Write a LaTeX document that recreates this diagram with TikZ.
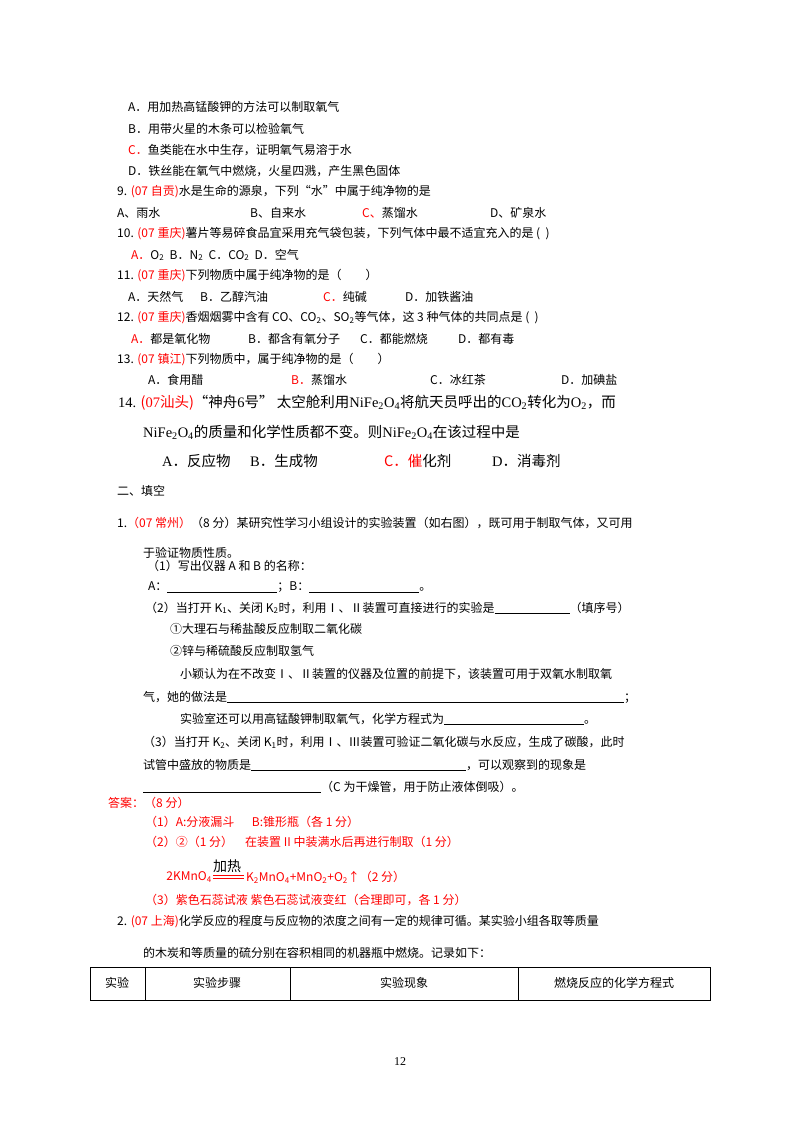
\documentclass[tikz,border=0pt]{standalone}
\usepackage{fontspec}
\setmainfont{Noto Sans CJK SC}
\newfontfamily\serifcn{Liberation Serif}
\begin{document}
\begin{tikzpicture}[x=1pt,y=-1pt,
  t/.style={anchor=west,inner sep=0pt,font=\fontsize{12}{14}\selectfont},
  tb/.style={anchor=west,inner sep=0pt,font=\fontsize{14.5}{17}\selectfont},
  r/.style={t,text=red}]
\path[use as bounding box,fill=white] (0,0) rectangle (800,1132);
\newcommand{\ul}[1]{\underline{\hspace{#1pt}}}
\newcommand{\rd}[1]{\textcolor{red}{#1}}
\node[t] (a8) at (128,107) {A．用加热高锰酸钾的方法可以制取氧气};
\node[t] (b8) at (128,129) {B．用带火星的木条可以检验氧气};
\node[t] (c8) at (128,150) {\rd{C．}鱼类能在水中生存，证明氧气易溶于水};
\node[t] (d8) at (128,171) {D．铁丝能在氧气中燃烧，火星四溅，产生黑色固体};
\node[t] (q9) at (117,192) {9. \rd{(07 自贡)}水是生命的源泉，下列“水”中属于纯净物的是};
\node[t] (a9) at (117,213) {A、雨水};
\node[t] (b9) at (250,213) {B、自来水};
\node[t] (c9) at (362,213) {\rd{C、}蒸馏水};
\node[t] (d9) at (490,213) {D、矿泉水};
\node[t] (q10) at (117,234) {10. \rd{(07 重庆)}薯片等易碎食品宜采用充气袋包装，下列气体中最不适宜充入的是 (\ \ )};
\node[t] (a10) at (131,255) {\rd{A．}O\textsubscript{2}\ \ B．N\textsubscript{2}\ \ C．CO\textsubscript{2}\ \ D．空气};
\node[t] (q11) at (117,276) {11. \rd{(07 重庆)}下列物质中属于纯净物的是（　　）};
\node[t] (a11) at (128,297) {A．天然气};
\node[t] (b11) at (200,297) {B．乙醇汽油};
\node[t] (c11) at (323,297) {\rd{C．}纯碱};
\node[t] (d11) at (405,297) {D．加铁酱油};
\node[t] (q12) at (117,318) {12. \rd{(07 重庆)}香烟烟雾中含有 CO、CO\textsubscript{2}、SO\textsubscript{2}等气体，这 3 种气体的共同点是 (\ \ )};
\node[t] (a12) at (131,339) {\rd{A．}都是氧化物};
\node[t] (b12) at (248,339) {B．都含有氧分子};
\node[t] (c12) at (360,339) {C．都能燃烧};
\node[t] (d12) at (458,339) {D．都有毒};
\node[t] (q13) at (117,360) {13. \rd{(07 镇江)}下列物质中，属于纯净物的是（　　）};
\node[t] (a13) at (148,380) {A．食用醋};
\node[t] (b13) at (291,380) {\rd{B．}蒸馏水};
\node[t] (c13) at (430,380) {C．冰红茶};
\node[t] (d13) at (561,380) {D．加碘盐};
\node[tb] (q14) at (118,403) {{\serifcn 14.} \rd{({\serifcn 07}汕头)}“神舟{\serifcn 6}号” 太空舱利用{\serifcn NiFe\textsubscript{2}O\textsubscript{4}}将航天员呼出的{\serifcn CO\textsubscript{2}}转化为{\serifcn O\textsubscript{2}}，而};
\node[tb] (q14b) at (143,432) {{\serifcn NiFe\textsubscript{2}O\textsubscript{4}}的质量和化学性质都不变。则{\serifcn NiFe\textsubscript{2}O\textsubscript{4}}在该过程中是};
\node[tb] (a14) at (162,461) {{\serifcn A}．反应物};
\node[tb] (b14) at (250,461) {{\serifcn B}．生成物};
\node[tb] (c14) at (384,461) {\rd{C．催}化剂};
\node[tb] (d14) at (492,461) {{\serifcn D}．消毒剂};
\node[t] (sec) at (117,491) {二、填空};
\node[t] (p1) at (117,523) {1.\rd{（07 常州）}（8 分）某研究性学习小组设计的实验装置（如右图），既可用于制取气体，又可用};
\node[t] (p1b) at (143,553) {于验证物质性质。};
\node[t] (p11) at (147,566) {（1）写出仪器 A 和 B 的名称：};
\node[t] (p11b) at (148,587) {A：\ul{110}；B：\ul{110}。};
\node[t] (p12x) at (145,608) {（2）当打开 K\textsubscript{1}、关闭 K\textsubscript{2}时，利用Ⅰ、Ⅱ装置可直接进行的实验是\ul{75}（填序号）};
\node[t] (o1) at (170,629) {①大理石与稀盐酸反应制取二氧化碳};
\node[t] (o2) at (170,651) {②锌与稀硫酸反应制取氢气};
\node[t] (xy) at (180,674) {小颖认为在不改变Ⅰ、Ⅱ装置的仪器及位置的前提下，该装置可用于双氧水制取氧};
\node[t] (xy2) at (143,697) {气，她的做法是\ul{397}；};
\node[t] (sy) at (180,719) {实验室还可以用高锰酸钾制取氧气，化学方程式为\ul{140}。};
\node[t] (p13) at (143,742) {（3）当打开 K\textsubscript{2}、关闭 K\textsubscript{1}时，利用Ⅰ、Ⅲ装置可验证二氧化碳与水反应，生成了碳酸，此时};
\node[t] (p13b) at (143,765) {试管中盛放的物质是\ul{215}，可以观察到的现象是};
\node[t] (p13c) at (143,787) {\ul{178}（C 为干燥管，用于防止液体倒吸）。};
\node[r] (ans) at (108,803) {答案：（8 分）};
\node[r] (an1) at (145,822) {（1）A:分液漏斗\quad\ \ B:锥形瓶（各 1 分）};
\node[r] (an2) at (145,842) {（2）②（1 分）\quad 在装置 II 中装满水后再进行制取（1 分）};
\node[r,anchor=east] (eq) at (212,877) {2KMnO\textsubscript{4}};
\node[r] (eq2) at (246,877) {K\textsubscript{2}MnO\textsubscript{4}+MnO\textsubscript{2}+O\textsubscript{2}↑（2 分）};
\node[t,font=\fontsize{14}{16}\selectfont] (jr) at (213,866) {加热};
\draw[red] (eq.east) ++(1,-1.5) -- ++(31,0) (eq.east) ++(1,1.5) -- ++(31,0);
\node[r] (an3) at (145,900) {（3）紫色石蕊试液\ 紫色石蕊试液变红（合理即可，各 1 分）};
\node[t] (p2) at (117,922) {2. \rd{(07 上海)}化学反应的程度与反应物的浓度之间有一定的规律可循。某实验小组各取等质量};
\node[t] (p2b) at (143,953) {的木炭和等质量的硫分别在容积相同的机器瓶中燃烧。记录如下：};
\draw[line width=0.8pt] (90,967) rectangle (710,1000);
\draw[line width=0.8pt] (145,967) -- (145,1000) (290,967) -- (290,1000) (518,967) -- (518,1000);
\node[t,anchor=center] (h1) at (117,983) {实验};
\node[t,anchor=center] (h2) at (217,983) {实验步骤};
\node[t,anchor=center] (h3) at (404,983) {实验现象};
\node[t,anchor=center] (h4) at (614,983) {燃烧反应的化学方程式};
\node[t,anchor=center,font=\serifcn\fontsize{12}{14}\selectfont] (pg) at (400,1062) {12};
\end{tikzpicture}
\end{document}
